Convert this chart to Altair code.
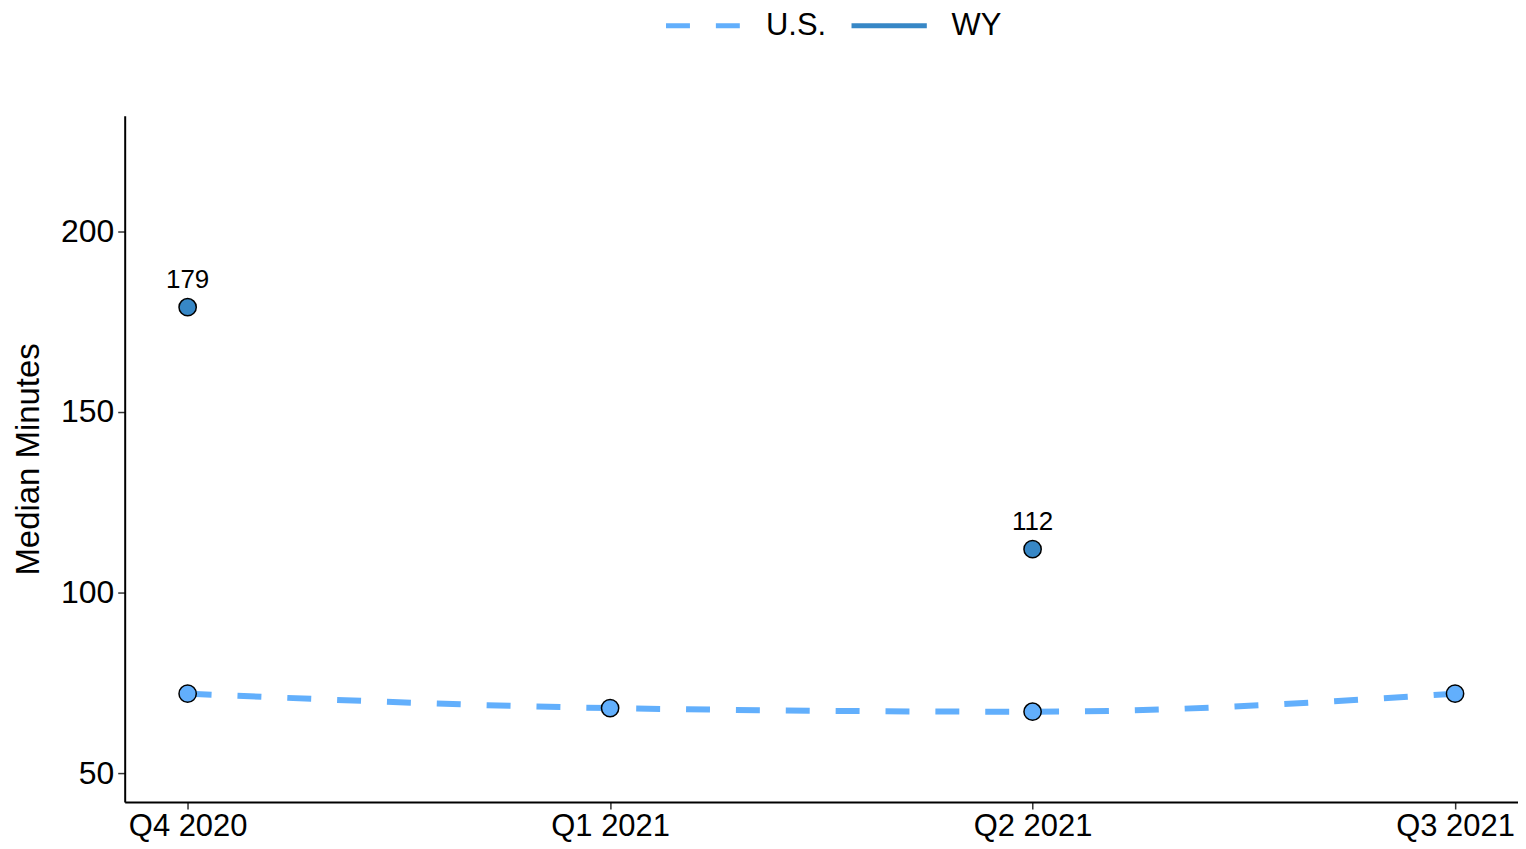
import altair as alt
import pandas as pd

quarters = ["Q4 2020", "Q1 2021", "Q2 2021", "Q3 2021"]
us_values = [72, 68, 67, 72]
wy_values = [179, None, 112, None]
series_names = ["U.S.", "WY"]
series_colors = ["#62AFFC", "#3787C6"]
series_dash = [[24, 26], [1, 0]]
y_ticks = [50, 100, 150, 200]

rows = []
for q, u, w in zip(quarters, us_values, wy_values):
    rows.append({"quarter": q, "series": "U.S.", "value": u})
    rows.append({"quarter": q, "series": "WY", "value": w})
df = pd.DataFrame(rows)

FONT = "Liberation Sans"

x_enc = alt.X("quarter:N", sort=quarters, title=None,
              scale=alt.Scale(type="point", padding=0.149),
              axis=alt.Axis(labelAngle=0, labelFontSize=31, labelColor="black",
                            tickColor="#333333", tickSize=7, tickWidth=1.5,
                            domainColor="black", domainWidth=2, labelPadding=3,
                            labelFont=FONT))
y_enc = alt.Y("value:Q", title="Median Minutes",
              scale=alt.Scale(domain=[42, 232], nice=False, zero=False),
              axis=alt.Axis(values=y_ticks, labelFontSize=32, labelColor="black",
                            tickColor="#333333", tickSize=7, tickWidth=1.5,
                            domainColor="black", domainWidth=2, grid=False,
                            titleFontSize=33, titleFontWeight="normal", titleColor="black",
                            titlePadding=15, labelPadding=4, labelFont=FONT, titleFont=FONT))

color_scale = alt.Scale(domain=series_names, range=series_colors)

legend_opts = dict(title=None, orient="none", direction="horizontal",
                   legendX=540, legendY=-131, symbolType="stroke",
                   symbolSize=5700, symbolStrokeWidth=5,
                   labelFontSize=31, labelFont=FONT, labelColor="black",
                   columnPadding=14, labelOffset=22)

lines = alt.Chart(df).mark_line(strokeWidth=6, interpolate="monotone",
                                invalid="break-paths-show-domains").encode(
    x=x_enc, y=y_enc,
    color=alt.Color("series:N", scale=color_scale, legend=alt.Legend(**legend_opts)),
    strokeDash=alt.StrokeDash("series:N",
                              scale=alt.Scale(domain=series_names, range=series_dash),
                              legend=alt.Legend(**legend_opts)),
)

points = alt.Chart(df).mark_circle(size=300, stroke="black", strokeWidth=1.5, opacity=1).encode(
    x=x_enc, y=y_enc,
    color=alt.Color("series:N", scale=color_scale, legend=None),
)

labels = alt.Chart(df).transform_filter(
    (alt.datum.series == "WY") & alt.expr.isValid(alt.datum.value)
).mark_text(dy=-27, fontSize=26, font=FONT, color="black").encode(
    x=x_enc, y=y_enc, text=alt.Text("value:Q", format="d"),
)

chart = alt.layer(lines, points, labels).properties(
    width=1397, height=688,
    autosize=alt.AutoSizeParams(type="none"),
    padding={"left": 117, "top": 107, "right": 0, "bottom": 40},
).configure(background="white").configure_view(stroke=None)

chart.save("out.html", embed_options={"renderer": "svg", "actions": False})
